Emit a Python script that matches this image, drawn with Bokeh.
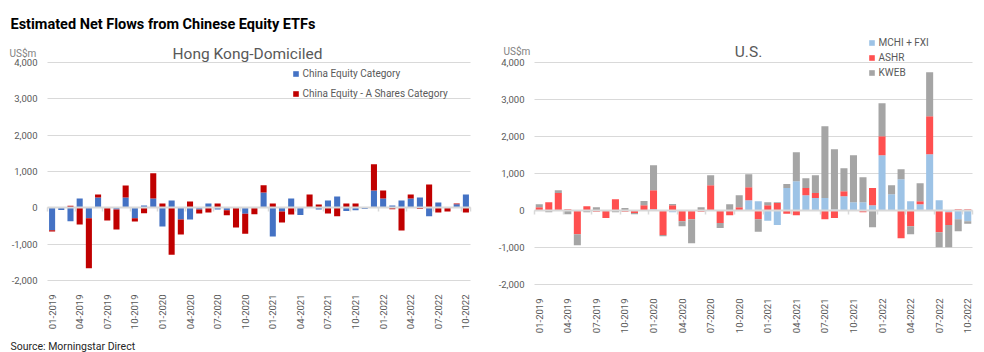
import numpy as np
from math import pi
from bokeh.plotting import figure
from bokeh.models import (FixedTicker, NumeralTickFormatter, LinearAxis, Label,
                          Legend, LegendItem, Range1d, ColumnDataSource)
from bokeh.layouts import row
from bokeh.embed import file_html
from bokeh.resources import INLINE

# ---------------- data ----------------
months = ["01-2019", "02-2019", "03-2019", "04-2019", "05-2019", "06-2019",
          "07-2019", "08-2019", "09-2019", "10-2019", "11-2019", "12-2019",
          "01-2020", "02-2020", "03-2020", "04-2020", "05-2020", "06-2020",
          "07-2020", "08-2020", "09-2020", "10-2020", "11-2020", "12-2020",
          "01-2021", "02-2021", "03-2021", "04-2021", "05-2021", "06-2021",
          "07-2021", "08-2021", "09-2021", "10-2021", "11-2021", "12-2021",
          "01-2022", "02-2022", "03-2022", "04-2022", "05-2022", "06-2022",
          "07-2022", "08-2022", "09-2022", "10-2022"]

# Hong Kong-domiciled (US$m)
hk_china_equity = [-620, -60, -370, 260, -285, 285, 0, -45, 285, -285, 65, 260,
                   -515, 200, -320, -320, -45, 120, -45, -65, 0, -160, 0, 425,
                   -790, -100, 260, -200, 0, -45, 200, 310, -90, -65, -35, 480,
                   260, 65, 200, 260, 285, -230, 150, 0, 100, 370]
hk_a_shares = [-30, 0, 60, -460, -1380, 85, -350, -550, 330, -90, -150, 690,
               120, -1290, -415, 175, -110, -130, 120, -140, -540, -550, -175, 195,
               120, -305, -185, 0, 370, 90, -155, -230, 120, 120, 0, 720,
               220, -40, -625, 110, -35, 645, -130, -100, 20, -130]

# U.S. (US$m)
us_mchi_fxi = [0, 0, 0, 0, 0, 0, 0, 0, 0, 0, 0, 0,
               35, 0, -45, 0, 0, 0, 0, 0, 0, 0, 280, 250,
               -280, -390, 605, 790, 415, 335, 335, 25, 385, 225, 225, 145,
               1495, 440, 845, 250, 170, 1520, 280, -45, -235, -290]
us_ashr = [90, 225, 470, 35, -640, 115, -35, -205, 305, -35, -70, 145,
           515, -665, 145, -290, -235, -35, 685, -340, -125, 90, 350, -235,
           145, 200, -90, -125, 190, 135, -235, -205, 135, 0, -45, 460,
           515, 0, -750, -425, 80, 1025, -585, -350, 35, 35]
us_kweb = [80, -45, 80, -100, -300, -45, 90, 0, -45, 65, -30, 110,
           675, -30, 30, -135, -650, 90, 270, -135, 170, 325, 350, -340,
           80, 25, 110, 785, 270, 485, 1945, 1630, 620, 1270, 675, -450,
           890, 245, 270, -215, 485, 1190, -405, -595, -325, -70]

y_ticks = [-2000, -1000, 0, 1000, 2000, 3000, 4000]
tick_months = ["01-2019", "04-2019", "07-2019", "10-2019",
               "01-2020", "04-2020", "07-2020", "10-2020",
               "01-2021", "04-2021", "07-2021", "10-2021",
               "01-2022", "04-2022", "07-2022", "10-2022"]

FONT = "Roboto"
GRID = "#d9d9d9"
TXT = "#595959"
H = 352


def stack(series_list):
    n = len(months)
    pos = np.zeros(n)
    neg = np.zeros(n)
    out = []
    for s in series_list:
        s = np.array(s, dtype=float)
        bottom = np.where(s >= 0, pos, neg)
        top = bottom + s
        pos = np.where(s >= 0, pos + s, pos)
        neg = np.where(s < 0, neg + s, neg)
        out.append((bottom, top))
    return out


def make_panel(width, left, right, top, bottom, series, names, colors, bar_w,
               title, title_x, unit_x, head_base, leg_x, leg_top, leg_h, leg_sp):
    """left/right/top/bottom: pixel edges of the plotting area in the canvas."""
    n = len(months)
    x0, x1 = -0.5, n - 0.5
    y0, y1 = y_ticks[0], y_ticks[-1]
    sx = (right - left) / (x1 - x0)
    sy = (bottom - top) / (y1 - y0)
    xr = Range1d(x0 - left / sx, x1 + (width - right) / sx)
    yr = Range1d(y0 - (H - bottom) / sy, y1 + top / sy)

    p = figure(width=width, height=H, output_backend="svg", toolbar_location=None,
               x_axis_location=None, y_axis_location=None,
               min_border=0, min_border_left=0, min_border_right=0,
               min_border_top=0, min_border_bottom=0,
               x_range=xr, y_range=yr)
    p.title.text = ""
    p.outline_line_color = None
    p.background_fill_color = "white"
    p.border_fill_color = "white"
    p.grid.visible = False

    # y axis: labels on the left, long inward ticks act as horizontal grid lines
    yax = LinearAxis(fixed_location=x0, bounds=(y0, y1),
                     ticker=FixedTicker(ticks=y_ticks),
                     formatter=NumeralTickFormatter(format="0,0"),
                     axis_line_color=None,
                     major_tick_line_color=GRID, major_tick_line_width=1,
                     major_tick_in=int(right - left), major_tick_out=0,
                     minor_tick_line_color=None,
                     major_label_standoff=10,
                     major_label_text_font=FONT,
                     major_label_text_font_size="9.5px",
                     major_label_text_color=TXT,
                     level="underlay")
    p.add_layout(yax, "left")

    x = np.arange(n)
    items = []
    for (b, t), name, col in zip(stack(series), names, colors):
        src = ColumnDataSource(dict(x=x, bottom=b, top=t, month=months))
        r = p.vbar(x="x", bottom="bottom", top="top", width=bar_w, source=src,
                   fill_color=col, line_color=None)
        items.append(LegendItem(label=name, renderers=[r]))

    # x axis labels at the bottom
    tpos = [months.index(m) for m in tick_months]
    xax = LinearAxis(fixed_location=y0, bounds=(x0, x1),
                     ticker=FixedTicker(ticks=tpos),
                     major_label_overrides={t: m for t, m in zip(tpos, tick_months)},
                     major_label_orientation=pi / 2,
                     axis_line_color=None, major_tick_line_color=None,
                     minor_tick_line_color=None, major_label_standoff=8,
                     major_label_text_font=FONT,
                     major_label_text_font_size="9.5px",
                     major_label_text_color=TXT)
    p.add_layout(xax, "below")

    # zero line with quarterly tick marks
    zt = [t - 0.5 for t in tpos] + [x1]
    zax = LinearAxis(fixed_location=0, bounds=(x0, x1), ticker=FixedTicker(ticks=zt),
                     major_label_overrides={t: "" for t in zt},
                     axis_line_color=GRID, axis_line_width=2,
                     major_tick_line_color=GRID, major_tick_line_width=1.5,
                     major_tick_in=0, major_tick_out=4,
                     minor_tick_line_color=None)
    p.add_layout(zax, "below")

    p.add_layout(Label(x=title_x, y=H - head_base, x_units="screen", y_units="screen",
                       text=title, text_font=FONT, text_font_size="15.5px",
                       text_color=TXT, text_align="center",
                       text_baseline="alphabetic"))
    p.add_layout(Label(x=unit_x, y=H - head_base, x_units="screen", y_units="screen",
                       text="US$m", text_font=FONT, text_font_size="10px",
                       text_color="#7f7f7f", text_align="left",
                       text_baseline="alphabetic"))

    leg_height = len(items) * leg_h + (len(items) - 1) * leg_sp
    legend = Legend(items=items, location=(leg_x, H - leg_top - leg_height),
                    glyph_width=7, glyph_height=7,
                    label_standoff=4, label_height=leg_h, spacing=leg_sp,
                    padding=0, margin=0, border_line_color=None,
                    background_fill_alpha=0,
                    label_text_font=FONT, label_text_font_size="10px",
                    label_text_color=TXT)
    p.add_layout(legend)
    return p


p1 = make_panel(490, 47, 470, 62, 280, [hk_china_equity, hk_a_shares],
                ["China Equity Category", "China Equity - A Shares Category"],
                ["#4472C4", "#C00000"], 0.66,
                "Hong Kong-Domiciled", 247, 9, 53, 291.6, 63, 20, 0)
p1.add_layout(Label(x=10, y=H - 24, x_units="screen", y_units="screen",
                    text="Estimated Net Flows from Chinese Equity ETFs",
                    text_font=FONT, text_font_size="14.5px", text_font_style="bold",
                    text_color="black", text_baseline="alphabetic"))
p1.add_layout(Label(x=10, y=H - 346, x_units="screen", y_units="screen",
                    text="Source: Morningstar Direct", text_font=FONT,
                    text_font_size="10.5px", text_color="#262626",
                    text_baseline="alphabetic"))

p2 = make_panel(494, 44, 482, 62, 284, [us_mchi_fxi, us_ashr, us_kweb],
                ["MCHI + FXI", "ASHR", "KWEB"],
                ["#9DC3E6", "#FF5050", "#A5A5A5"], 0.74,
                "U.S.", 258, 13, 51, 377.6, 35.5, 14, 1)

layout = row(p1, p2)
open("out.html", "w").write(file_html(layout, INLINE))
